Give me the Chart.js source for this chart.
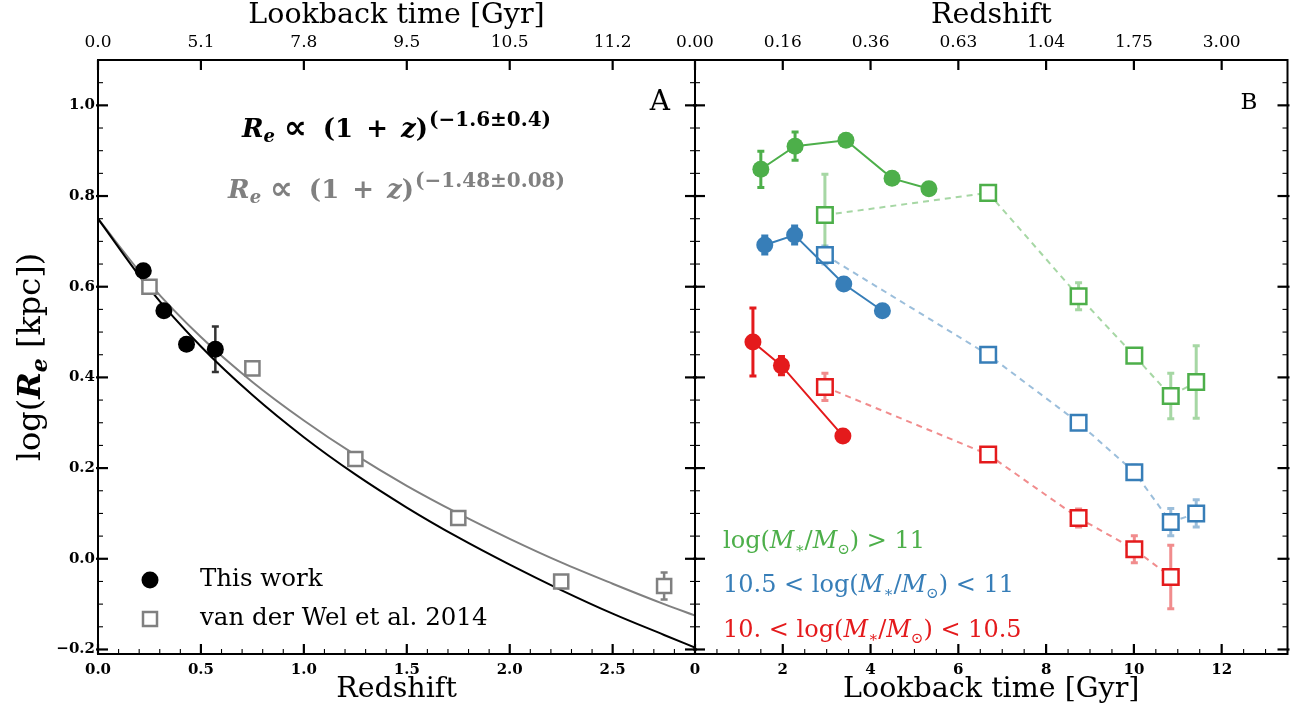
<!DOCTYPE html>
<html>
<head>
<meta charset="utf-8">
<script src="https://cdn.jsdelivr.net/npm/chart.js@4.4.1/dist/chart.umd.min.js"></script>
<style>
  html, body { margin: 0; padding: 0; background: #fff; }
  #wrap { position: relative; width: 1301px; height: 718px; overflow: hidden; }
  #chartA { position: absolute; left: 0; top: 0; }
  #chartB { position: absolute; left: 660px; top: 0; }
</style>
</head>
<body>
<div id="wrap">
  <canvas id="chartA" width="720" height="718"></canvas>
  <canvas id="chartB" width="641" height="718"></canvas>
</div>
<script>
// ---- panel A: size vs redshift ----
const thisWorkZ   = [0.22, 0.32, 0.43, 0.57];
const thisWorkRe  = [0.635, 0.547, 0.473, 0.462];
const thisWorkErr = [0, 0, 0, 0.05];

const vdwZ   = [0.25, 0.75, 1.25, 1.75, 2.25, 2.75];
const vdwRe  = [0.60, 0.42, 0.22, 0.09, -0.05, -0.06];
const vdwErr = [0.01, 0.01, 0.01, 0.01, 0.01, 0.03];

// fitted curves
const fitZ        = [0, 0.25, 0.5, 0.75, 1.0, 1.25, 1.5, 1.75, 2.0, 2.25, 2.5, 2.75, 2.9];
const fitThisWork = [0.750, 0.595, 0.468, 0.361, 0.268, 0.186, 0.113, 0.047, -0.013, -0.069, -0.121, -0.168, -0.196];
const fitVdw      = [0.750, 0.607, 0.489, 0.390, 0.305, 0.229, 0.161, 0.100, 0.044, -0.008, -0.055, -0.100, -0.125];

const topLookbackLabels = ['0.0', '5.1', '7.8', '9.5', '10.5', '11.2'];

// ---- panel B: size vs lookback time, by mass bin ----
const vdwLookback = [2.96, 6.68, 8.74, 10.01, 10.84, 11.42];

const hiMassT      = [1.50, 2.28, 3.44, 4.49, 5.33];
const hiMassRe     = [0.859, 0.910, 0.923, 0.839, 0.816];
const hiMassErr    = [0.04, 0.031, 0.01, 0.01, 0.01];
const hiMassVdw    = [0.758, 0.807, 0.579, 0.448, 0.359, 0.390];
const hiMassVdwErr = [0.09, 0.015, 0.03, 0.01, 0.05, 0.08];

const midMassT      = [1.59, 2.27, 3.39, 4.27];
const midMassRe     = [0.692, 0.714, 0.606, 0.547];
const midMassErr    = [0.02, 0.02, 0, 0];
const midMassVdw    = [0.670, 0.450, 0.300, 0.191, 0.081, 0.100];
const midMassVdwErr = [0.02, 0.01, 0.01, 0.015, 0.03, 0.03];

const lowMassT      = [1.32, 1.97, 3.37];
const lowMassRe     = [0.478, 0.426, 0.271];
const lowMassErr    = [0.075, 0.02, 0];
const lowMassVdw    = [0.379, 0.230, 0.090, 0.021, -0.040];
const lowMassVdwErr = [0.03, 0.01, 0.02, 0.03, 0.07];

const topRedshiftLabels = ['0.00', '0.16', '0.36', '0.63', '1.04', '1.75', '3.00'];

const GREEN = '#4daf4a', BLUE = '#377eb8', RED = '#e41a1c';
const GREEN_L = 'rgba(77,175,74,0.5)', BLUE_L = 'rgba(55,126,184,0.5)', RED_L = 'rgba(228,26,28,0.5)';

const SERIF = '"DejaVu Serif", "Liberation Serif", serif';
const fnt = (size, style) => (style ? style + ' ' : '') + size + 'px ' + SERIF;
const pts = (xs, ys) => xs.map((x, i) => ({ x: x, y: ys[i] }));

// runs of text with their own font, vertical shift and extra gap before
function richWidth(ctx, runs) {
  let w = 0;
  runs.forEach(r => { ctx.font = r.f; w += ctx.measureText(r.t).width + (r.gap || 0); });
  return w;
}
function drawRich(ctx, x, y, runs, color) {
  ctx.fillStyle = color;
  ctx.textAlign = 'left';
  ctx.textBaseline = 'alphabetic';
  runs.forEach(r => {
    ctx.font = r.f;
    x += r.gap || 0;
    ctx.fillText(r.t, x, y + (r.dy || 0));
    x += ctx.measureText(r.t).width;
  });
}

// vertical error bars, under the markers
const errorBars = {
  id: 'errorBars',
  beforeDatasetsDraw(chart) {
    const { ctx, scales: { x, y } } = chart;
    ctx.save();
    chart.data.datasets.forEach(ds => {
      if (!ds.errors) return;
      ctx.strokeStyle = ds.errorColor;
      ctx.lineWidth = ds.errorWidth || 2.5;
      ds.data.forEach((p, i) => {
        const e = ds.errors[i];
        if (!e) return;
        const px = x.getPixelForValue(p.x);
        const y1 = y.getPixelForValue(p.y + e), y2 = y.getPixelForValue(p.y - e);
        ctx.beginPath();
        ctx.moveTo(px, y1); ctx.lineTo(px, y2);
        ctx.moveTo(px - 3.5, y1); ctx.lineTo(px + 3.5, y1);
        ctx.moveTo(px - 3.5, y2); ctx.lineTo(px + 3.5, y2);
        ctx.stroke();
      });
    });
    ctx.restore();
  }
};

// frame + inward ticks on all four sides
const frameTicks = {
  id: 'frameTicks',
  afterDraw(chart, args, opts) {
    const { ctx, chartArea: a, scales } = chart;
    const xs = scales.x, ys = scales.y, xt = scales.x2;
    ctx.save();
    ctx.strokeStyle = '#000';
    const seg = (x1, y1, x2, y2, w) => {
      ctx.lineWidth = w;
      ctx.beginPath(); ctx.moveTo(x1, y1); ctx.lineTo(x2, y2); ctx.stroke();
    };
    // y ticks, every 0.05, major each 0.2
    for (let k = -4; k <= 22; k++) {
      const py = ys.getPixelForValue(k * 0.05);
      if (py < a.top - 0.5 || py > a.bottom + 0.5) continue;
      const major = k % 4 === 0;
      const len = major ? 10 : 5, w = major ? 2.2 : 1.1;
      seg(a.left - (major ? 2 : 0), py, a.left + len, py, w);
      seg(a.right - len, py, a.right + (major ? 2 : 0), py, w);
    }
    // bottom ticks
    for (let k = 0; ; k++) {
      const v = k * opts.xMinor;
      if (v > xs.max + 1e-9) break;
      const px = xs.getPixelForValue(v);
      const major = k % opts.xRatio === 0;
      seg(px, a.bottom, px, a.bottom - (major ? 10 : 5), major ? 2.2 : 1.1);
    }
    // top ticks (major only)
    xt.ticks.forEach(t => {
      const px = xt.getPixelForValue(t.value);
      seg(px, a.top, px, a.top + 10, 2.2);
    });
    ctx.lineWidth = 2;
    ctx.strokeRect(a.left, a.top, a.right - a.left, a.bottom - a.top);
    ctx.restore();
  }
};

const fmtY = v => {
  if (Math.abs(v) < 1e-9) return '0.0';
  return v.toFixed(1).replace('-', '\u2212');
};

// ---- text for panel A ----
const textA = {
  id: 'textA',
  afterDraw(chart) {
    const { ctx, chartArea: a } = chart;
    ctx.save();
    const cx = (a.left + a.right) / 2;
    ctx.fillStyle = '#000';
    ctx.textAlign = 'center';
    ctx.textBaseline = 'middle';
    ctx.font = fnt(28.5);
    ctx.fillText('Lookback time [Gyr]', cx, 16);
    ctx.fillText('Redshift', cx, 690);

    // y title
    const yRuns = [
      { t: 'log(', f: fnt(32) },
      { t: 'R', f: fnt(32, 'bold italic') },
      { t: 'e', f: fnt(22, 'bold italic'), dy: 7 },
      { t: ' [kpc])', f: fnt(32) }
    ];
    ctx.translate(29, (a.top + a.bottom) / 2);
    ctx.rotate(-Math.PI / 2);
    drawRich(ctx, -richWidth(ctx, yRuns) / 2, 11, yRuns, '#000');
    ctx.setTransform(1, 0, 0, 1, 0, 0);

    // fit laws, centred on the panel
    const law = (exp) => [
      { t: 'R', f: fnt(26, 'bold italic') },
      { t: 'e', f: fnt(18, 'bold italic'), dy: 5 },
      { t: '\u221D', f: 'bold 32px "DejaVu Sans"', gap: 9, dy: 1 },
      { t: '(1', f: fnt(26, 'bold'), gap: 16 },
      { t: '+', f: fnt(26, 'bold'), gap: 13 },
      { t: 'z', f: fnt(26, 'bold italic'), gap: 13 },
      { t: ')', f: fnt(26, 'bold') },
      { t: exp, f: fnt(20, 'bold'), dy: -11, gap: 1 }
    ];
    const l1 = law('(\u22121.6\u00B10.4)'), l2 = law('(\u22121.48\u00B10.08)');
    drawRich(ctx, cx - richWidth(ctx, l1) / 2, 137, l1, '#000');
    drawRich(ctx, cx - richWidth(ctx, l2) / 2, 198, l2, '#808080');

    // panel letter
    ctx.font = fnt(28);
    ctx.fillStyle = '#000';
    ctx.textAlign = 'right';
    ctx.textBaseline = 'middle';
    ctx.fillText('A', a.right - 25, 103);

    // legend
    const lx = a.left + 52;
    ctx.beginPath();
    ctx.arc(lx, 580, 8.5, 0, Math.PI * 2);
    ctx.fill();
    ctx.strokeStyle = '#808080';
    ctx.lineWidth = 2.5;
    ctx.fillStyle = '#fff';
    ctx.fillRect(lx - 7, 612, 14, 14);
    ctx.strokeRect(lx - 7, 612, 14, 14);
    ctx.fillStyle = '#000';
    ctx.textAlign = 'left';
    ctx.font = fnt(24.5);
    ctx.fillText('This work', a.left + 102, 580);
    ctx.fillText('van der Wel et al. 2014', a.left + 102, 619);
    ctx.restore();
  }
};

// ---- text for panel B ----
const textB = {
  id: 'textB',
  afterDraw(chart) {
    const { ctx, chartArea: a } = chart;
    ctx.save();
    const cx = (a.left + a.right) / 2;
    ctx.fillStyle = '#000';
    ctx.textAlign = 'center';
    ctx.textBaseline = 'middle';
    ctx.font = fnt(28.5);
    ctx.fillText('Redshift', cx, 16);
    ctx.fillText('Lookback time [Gyr]', cx, 690);

    ctx.font = fnt(23);
    ctx.textAlign = 'right';
    ctx.fillText('B', a.right - 30, 103);

    const mass = [
      { t: 'log(', f: fnt(24) },
      { t: 'M', f: fnt(24, 'italic') },
      { t: '\u2217', f: fnt(15), dy: 5 },
      { t: '/', f: fnt(24) },
      { t: 'M', f: fnt(24, 'italic') },
      { t: '\u2299', f: fnt(15), dy: 6 },
      { t: ')', f: fnt(24) }
    ];
    const lx = a.left + 28;
    drawRich(ctx, lx, 548, mass.concat([{ t: ' > 11', f: fnt(24) }]), GREEN);
    drawRich(ctx, lx, 592, [{ t: '10.5 < ', f: fnt(24) }].concat(mass, [{ t: ' < 11', f: fnt(24) }]), BLUE);
    drawRich(ctx, lx, 637, [{ t: '10. < ', f: fnt(24) }].concat(mass, [{ t: ' < 10.5', f: fnt(24) }]), RED);
    ctx.restore();
  }
};

const yScale = (show) => ({
  type: 'linear',
  display: show,
  min: -0.21,
  max: 1.1,
  grid: { display: false, drawTicks: false },
  border: { display: false },
  ticks: {
    stepSize: 0.2, includeBounds: false, padding: 3, color: '#000',
    font: { family: SERIF, size: 15, weight: 'bold' },
    callback: fmtY
  },
  afterFit: s => { s.width = show ? 98 : 0; }
});

const xScale = (max, step, pos, font, cb, h) => ({
  type: 'linear',
  position: pos,
  min: 0,
  max: max,
  grid: { display: false, drawTicks: false },
  border: { display: false },
  ticks: {
    stepSize: step, includeBounds: false, autoSkip: false, maxRotation: 0,
    padding: 7, color: '#000', font: font, callback: cb
  },
  afterFit: s => { s.height = h; }
});

const boldTick = { family: SERIF, size: 15, weight: 'bold' };
const plainTick = { family: SERIF, size: 17 };

// nudge layout padding until the plot area sits where the panel frame should be
function pinArea(chart, left, right) {
  for (let i = 0; i < 4; i++) {
    const a = chart.chartArea, p = chart.options.layout.padding;
    const dl = left - a.left, dr = a.right - right;
    if (Math.abs(dl) < 0.5 && Math.abs(dr) < 0.5) break;
    p.left += dl;
    p.right += dr;
    chart.update();
  }
}

const chartA = new Chart(document.getElementById('chartA'), {
  type: 'scatter',
  data: {
    datasets: [
      {
        data: pts(thisWorkZ, thisWorkRe),
        errors: thisWorkErr, errorColor: '#333', errorWidth: 2.5,
        pointStyle: 'circle', pointRadius: 8.5, backgroundColor: '#000', borderWidth: 0
      },
      {
        data: pts(vdwZ, vdwRe),
        errors: vdwErr, errorColor: '#808080', errorWidth: 2.5,
        pointStyle: 'rect', pointRadius: 10, backgroundColor: '#fff',
        borderColor: '#808080', borderWidth: 2.5
      },
      {
        data: pts(fitZ, fitThisWork), showLine: true, pointRadius: 0,
        borderColor: '#000', borderWidth: 2, cubicInterpolationMode: 'monotone'
      },
      {
        data: pts(fitZ, fitVdw), showLine: true, pointRadius: 0,
        borderColor: '#808080', borderWidth: 2, cubicInterpolationMode: 'monotone'
      }
    ]
  },
  options: {
    responsive: false,
    animation: false,
    layout: { padding: { left: 0, right: 25, top: 0, bottom: 0 } },
    plugins: {
      legend: { display: false },
      tooltip: { enabled: false },
      frameTicks: { xMinor: 0.1, xRatio: 5 }
    },
    scales: {
      x: xScale(2.9, 0.5, 'bottom', boldTick, v => v.toFixed(1), 64),
      x2: xScale(2.9, 0.5, 'top', plainTick, (v, i) => topLookbackLabels[i], 60),
      y: yScale(true)
    }
  },
  plugins: [errorBars, frameTicks, textA]
});
pinArea(chartA, 98, 695);

const circles = (xs, ys, errs, c) => ({
  data: pts(xs, ys), showLine: true,
  errors: errs, errorColor: c, errorWidth: 3,
  pointStyle: 'circle', pointRadius: 8.5, backgroundColor: c,
  borderColor: c, borderWidth: 2, pointBorderWidth: 0
});
const squares = (ys, errs, c, cl) => ({
  data: pts(vdwLookback.slice(0, ys.length), ys),
  errors: errs, errorColor: cl, errorWidth: 3,
  pointStyle: 'rect', pointRadius: 11, backgroundColor: '#fff',
  borderColor: c, borderWidth: 2.5
});
const dashed = (ys, cl) => ({
  data: pts(vdwLookback.slice(0, ys.length), ys), showLine: true, pointRadius: 0,
  borderColor: cl, borderWidth: 2, borderDash: [6, 5]
});

const chartB = new Chart(document.getElementById('chartB'), {
  type: 'scatter',
  data: {
    datasets: [
      circles(hiMassT, hiMassRe, hiMassErr, GREEN),
      circles(midMassT, midMassRe, midMassErr, BLUE),
      circles(lowMassT, lowMassRe, lowMassErr, RED),
      squares(midMassVdw, midMassVdwErr, BLUE, BLUE_L),
      squares(hiMassVdw, hiMassVdwErr, GREEN, GREEN_L),
      squares(lowMassVdw, lowMassVdwErr, RED, RED_L),
      dashed(hiMassVdw, GREEN_L),
      dashed(midMassVdw, BLUE_L),
      dashed(lowMassVdw, RED_L)
    ]
  },
  options: {
    responsive: false,
    animation: false,
    layout: { padding: { left: 35, right: 11, top: 0, bottom: 0 } },
    plugins: {
      legend: { display: false },
      tooltip: { enabled: false },
      frameTicks: { xMinor: 0.5, xRatio: 4 }
    },
    scales: {
      x: xScale(13.5, 2, 'bottom', boldTick, v => String(v), 64),
      x2: xScale(13.5, 2, 'top', plainTick, (v, i) => topRedshiftLabels[i], 60),
      y: yScale(false)
    }
  },
  plugins: [errorBars, frameTicks, textB]
});
pinArea(chartB, 35, 630);
</script>
</body>
</html>
